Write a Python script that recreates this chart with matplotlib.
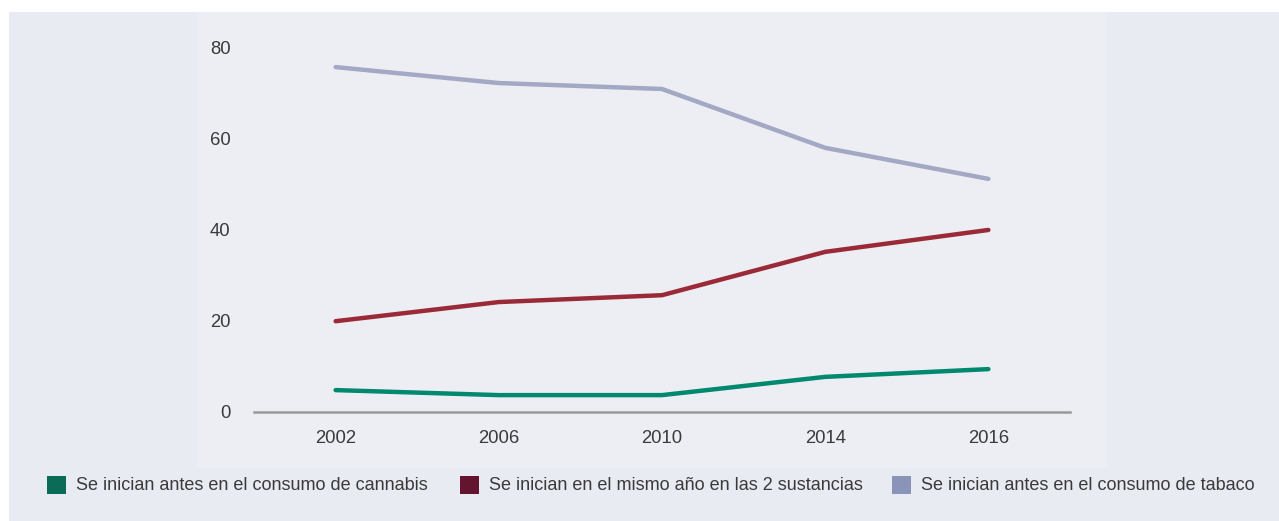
import matplotlib
matplotlib.use("Agg")
import matplotlib.pyplot as plt
from matplotlib.patches import Rectangle

years = ["2002", "2006", "2010", "2014", "2016"]
cannabis_first = [4.8, 3.7, 3.7, 7.7, 9.4]
same_year = [19.9, 24.1, 25.6, 35.1, 39.9]
tobacco_first = [75.6, 72.1, 70.8, 57.9, 51.1]
yticks = [0, 20, 40, 60, 80]
labels = ["Se inician antes en el consumo de cannabis",
          "Se inician en el mismo año en las 2 sustancias",
          "Se inician antes en el consumo de tabaco"]
line_colors = ["#00896f", "#9b2a38", "#a3a8c4"]
legend_colors = ["#0a6b56", "#63142f", "#8a94b8"]

plt.rcParams['font.family'] = ['Liberation Sans', 'DejaVu Sans']

W, H = 1279, 521
fig = plt.figure(figsize=(W / 100, H / 100), dpi=100)
fig.patch.set_facecolor("white")

# outer and inner background panels
fig.patches.append(Rectangle((9 / W, 0), (W - 9) / W, (H - 12) / H,
                             transform=fig.transFigure, facecolor="#e9ebf3",
                             edgecolor="none", zorder=-10))
fig.patches.append(Rectangle((197 / W, (H - 468) / H), (1107 - 197) / W, (468 - 12) / H,
                             transform=fig.transFigure, facecolor="#edeef4",
                             edgecolor="none", zorder=-9))

ax = fig.add_axes([254 / W, 109 / H, 816 / W, 387.8 / H])
ax.set_facecolor("none")
x = list(range(len(years)))
for vals, c in zip([cannabis_first, same_year, tobacco_first], line_colors):
    ax.plot(x, vals, color=c, lw=3.2, solid_capstyle="round", solid_joinstyle="round")

ax.set_xlim(-0.5, 4.5)
ax.set_ylim(0, 85)
ax.set_xticks(x)
ax.set_xticklabels(years)
ax.set_yticks(yticks)
for s in ["left", "right", "top"]:
    ax.spines[s].set_visible(False)
ax.spines["bottom"].set_color("#9a9a9a")
ax.spines["bottom"].set_linewidth(1.8)
ax.tick_params(axis="both", length=0, labelsize=13.3, colors="#3a3a3a")
ax.tick_params(axis="x", pad=13)
ax.tick_params(axis="y", pad=17)

# legend
sq_x = [47, 460, 892]
for sx, lab, c in zip(sq_x, labels, legend_colors):
    fig.patches.append(Rectangle((sx / W, (H - 494) / H), 19 / W, 18 / H,
                                 transform=fig.transFigure, facecolor=c,
                                 edgecolor="none"))
    fig.text((sx + 29) / W, (H - 486) / H, lab, fontsize=13, color="#3a3a3a",
             va="center", ha="left")

fig.savefig("out.png", dpi=100)
